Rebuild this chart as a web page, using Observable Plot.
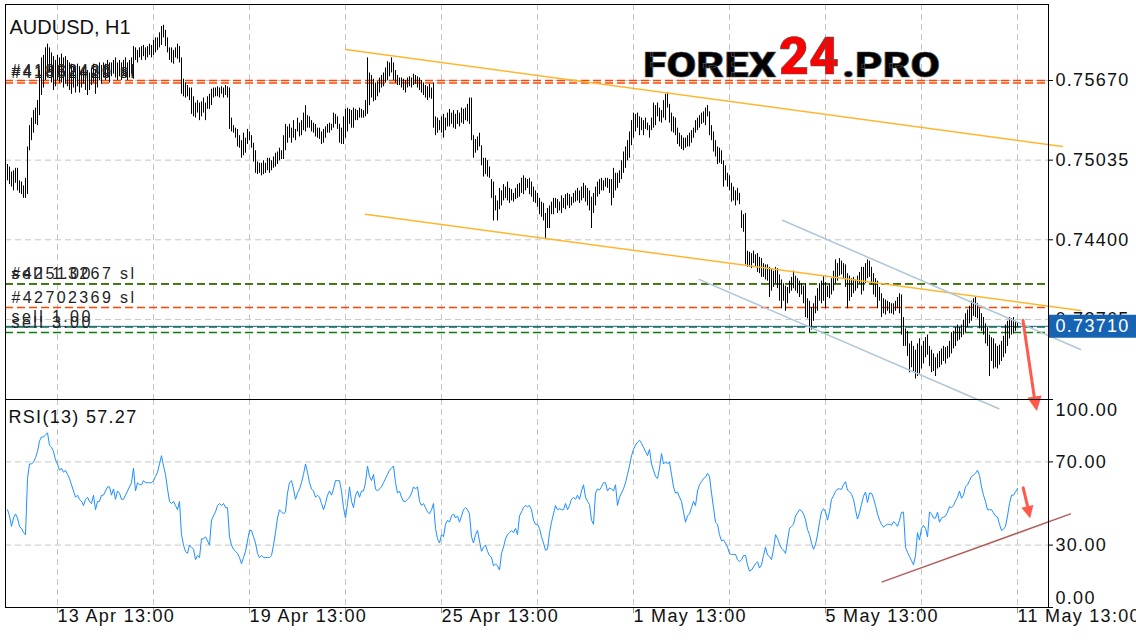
<!DOCTYPE html>
<html><head><meta charset="utf-8">
<script src="https://cdn.jsdelivr.net/npm/d3@7"></script>
<script src="https://cdn.jsdelivr.net/npm/@observablehq/plot@0.6"></script>
<style>
html,body{margin:0;padding:0;background:#fff;overflow:hidden}
#chart{position:relative;width:1136px;height:640px;background:#fff}
#chart svg{position:absolute;left:0;top:0}
#chart svg text{letter-spacing:1.3px}
#chart g[aria-description="orders"] text{letter-spacing:2.4px}
#chart g[aria-description="title"] text{letter-spacing:0}
#chart g[aria-description="head"] text{letter-spacing:0}
</style></head><body><div id="chart"></div>
<script>
// ---- hourly AUDUSD bars (prices in pips, 0.0001) ----
const highPips = [
7500,7498,7494,7495,7497,7497,7487,7486,7483,7489,7514,
7531,7537,7543,7545,7551,7575,7585,
7587,7593,7596,7593,7589,7586,7583,7587,7585,7588,7585,7586,7583,7581,7580,7578,7577,7580,
7578,7575,7577,7579,7575,7573,7577,7580,7575,7578,7581,7579,7581,7580,7583,7581,7581,7583,7585,7581,7583,7581,7583,7585,7581,7583,7585,
7594,7593,7591,7593,7594,7595,7593,7594,7596,7595,7599,7601,7601,7605,7610,7611,7607,
7601,7593,7593,7591,7593,7596,7594,7585,7568,
7565,7563,7561,7561,7554,7549,7551,
7549,7550,7553,7549,7554,7556,7560,7561,7561,7562,7561,7562,7561,7563,7562,7561,
7537,7531,7529,7528,7523,7519,7525,7521,7528,7526,7523,7517,7511,7502,7501,
7501,7503,7501,7505,7505,7503,7506,7509,7510,7513,
7511,7523,7532,7530,7532,7529,7535,7528,7537,7533,7535,7541,7547,7539,7538,
7535,7533,7532,7529,7529,7526,7528,7530,7532,7533,7532,7541,7540,7538,7532,
7529,7538,7544,7545,7544,7543,7545,7544,7543,7545,7544,7543,7551,7585,
7573,7571,7568,7565,7566,7569,7571,7573,7577,7582,7581,7585,7581,7575,7571,7569,7569,7568,7567,7569,
7570,7569,7572,7571,7570,7569,7567,7565,7563,7562,7564,7561,7565,
7538,7537,7535,7538,7540,7537,7541,7544,7541,7543,7540,7543,7541,7545,7544,7545,7548,7553,7553,7523,
7520,7522,7525,7515,7505,7505,7503,7498,7488,7486,7475,7471,
7481,7479,7484,7482,7486,7481,7480,7477,7481,7484,7485,7489,7491,7489,7488,7489,7486,7482,7479,7477,7473,7470,7469,7461,7465,
7467,7470,7473,7473,7472,7470,7475,7473,7476,7477,7476,7474,7477,7479,7481,7479,7482,7485,7483,7481,
7479,7474,7477,7482,7486,7488,7489,7487,7489,7489,7488,7488,7497,7493,7493,7495,7503,7510,7514,7519,
7526,7535,7541,7540,7541,7538,7537,7535,7537,7533,7531,7537,7549,7547,7549,7545,7543,7551,7556,7557,7548,7541,7538,7537,7529,
7525,7523,7521,7521,7523,7525,7527,7529,7535,7537,7539,7541,7542,7545,7547,7542,7531,7526,7519,7514,
7513,7511,7503,7499,7493,7491,7485,7482,7479,7481,7477,7463,7460,7461,7431,7430,7429,7431,7428,7429,
7426,7425,7421,7420,7420,7418,7417,7415,7418,7417,7412,7408,7405,7403,7402,7407,7410,7415,7411,7409,
7407,7405,7403,7405,7393,7391,7386,7389,7395,7401,7405,7407,7411,7406,7403,7405,7409,7415,7424,7421,
7425,7423,7421,7420,7413,7411,7409,7410,7408,7411,7414,7418,7418,7421,7424,
7423,7418,7413,7409,7407,7402,7397,7393,7392,7391,7390,7389,7389,7391,7394,
7397,7396,7378,7369,7367,7357,7359,7355,7352,7357,7361,7355,7359,7362,7364,7355,7352,7349,7346,7349,
7351,7353,7355,7354,7355,7359,7366,7367,7370,7372,7370,7372,7376,7381,7384,7387,7391,7393,7394,7389,
7385,7381,7378,7373,7370,7364,7362,7361,7357,7355,7356,7359,7363,7372,7375,7378,7377,7378,7375,7374];
const lowPips = [
7487,7484,7482,7479,7485,7479,7477,7476,7473,7473,7476,
7511,7519,7525,7532,7531,7539,7555,
7561,7567,7569,7573,7565,7559,7562,7567,7565,7565,7561,7564,7562,7559,7556,7561,7557,7562,
7557,7561,7564,7559,7555,7559,7563,7565,7556,7561,7567,7564,7569,7567,7569,7565,7570,7572,7569,7567,7570,7567,7571,7569,7567,7569,7572,
7568,7583,7581,7585,7583,7586,7583,7585,7587,7585,7587,7589,7591,7593,7595,7601,7594,
7589,7583,7581,7580,7585,7584,7581,7556,7554,
7553,7554,7551,7540,7538,7537,7541,
7535,7538,7541,7535,7544,7544,7547,7553,7554,7554,7553,7556,7553,7555,7553,7528,
7526,7525,7521,7514,7513,7505,7507,7509,7516,7519,7513,7502,7493,7492,7493,
7491,7492,7493,7495,7493,7495,7497,7498,7500,7503,
7504,7504,7511,7517,7521,7517,7521,7519,7526,7522,7523,7527,7526,7529,7529,
7526,7525,7522,7521,7520,7516,7517,7521,7525,7525,7527,7529,7532,7528,7517,
7516,7516,7521,7526,7532,7529,7529,7535,7535,7537,7537,7537,7538,7540,
7547,7553,7550,7551,7554,7557,7561,7562,7565,7567,7570,7573,7567,7565,7563,7563,7561,7559,7557,7561,
7562,7561,7563,7564,7561,7559,7557,7555,7553,7551,7553,7552,7529,
7523,7525,7527,7525,7521,7527,7530,7530,7532,7529,7528,7532,7530,7533,7532,7535,7534,7532,7519,7505,
7509,7511,7514,7499,7490,7492,7490,7489,7473,7455,7463,7455,
7464,7467,7471,7473,7471,7469,7471,7470,7472,7473,7474,7477,7476,7479,7481,7476,7474,7470,7469,7466,7460,7458,7455,7441,7449,
7449,7460,7460,7465,7461,7463,7461,7465,7464,7467,7465,7467,7469,7470,7471,7469,7471,7473,7470,7467,
7463,7449,7461,7467,7474,7476,7479,7479,7482,7481,7477,7467,7473,7479,7481,7485,7488,7493,7497,7503,
7505,7515,7521,7526,7529,7523,7527,7523,7528,7527,7521,7527,7529,7531,7538,7534,7533,7537,7535,7545,7533,7526,7525,7523,7516,
7514,7512,7511,7513,7514,7514,7517,7521,7525,7527,7529,7532,7533,7531,7538,7523,7519,7510,7506,7500,
7501,7500,7482,7487,7482,7479,7470,7471,7467,7471,7468,7449,7446,7420,7418,7418,7417,7421,7418,7414,
7413,7410,7410,7408,7407,7394,7399,7402,7405,7401,7391,7385,7391,7383,7389,7397,7399,7401,7399,7397,
7394,7396,7389,7378,7377,7366,7368,7375,7381,7383,7391,7389,7391,7385,7394,7393,7396,7399,7405,7407,
7411,7412,7409,7402,7385,7391,7394,7397,7399,7401,7405,7396,7399,7405,7409,
7410,7404,7396,7394,7385,7391,7378,7381,7380,7383,7381,7381,7380,7383,7385,
7381,7364,7355,7355,7347,7334,7338,7335,7329,7331,7333,7337,7341,7346,7348,7339,7334,7335,7331,7337,
7338,7340,7343,7341,7345,7346,7349,7353,7355,7359,7360,7362,7364,7366,7370,7373,7375,7379,7378,7377,
7369,7367,7364,7357,7355,7331,7343,7337,7338,7337,7340,7343,7346,7349,7355,7361,7364,7365,7367,7370];
// ---- RSI(13), one value per bar ----
const rsiValues = [
47,44,39,43,45,43,39,38,36,35, 62,69,69,70,72,75,80,82,82,83,
84,78,77,75,71,69,66,67,65,66, 64,62,59,56,53,54,52,51,49,52,
53,51,50,54,47,51,51,54,54,56, 58,58,54,57,52,56,55,52,52,54,
56,58,60,67,56,60,59,59,61,60, 60,60,60,61,63,65,69,73,68,64,
57,51,50,51,49,47,51,35,30,27, 26,30,29,28,23,25,24,33,33,34,
32,30,42,44,46,49,50,49,50,48, 48,34,30,28,27,26,24,21,24,27,
32,37,37,34,31,26,24,25,24,24, 24,24,25,30,36,43,47,46,45,46,
55,60,61,57,52,55,57,60,64,69, 65,60,57,56,53,54,53,50,47,50,
54,56,54,57,61,61,61,56,48,43, 50,58,51,48,54,56,53,56,56,60,
68,63,61,64,57,56,57,58,60,62, 64,66,67,68,60,55,56,53,51,51,
52,53,55,58,57,58,51,49,50,48, 46,45,47,50,38,33,31,35,34,40,
42,41,44,45,43,44,41,44,47,48, 47,45,34,31,35,37,32,27,29,30,
27,25,24,20,21,20,18,26,29,33, 35,36,37,36,38,35,44,
46,48,49,48.5,49,47,42,40,40,38, 34,31,27.5,28,36,41,45,49,47,47.5,
47,47,50,47,49,52,53,52,54,52, 56,59,53,51,49.5,42,40,55,57,56.5,
58,60,60,56,57.5,57,56,59,49,53, 55,57,60,64,68,73,76,78,79.5,80.4,
79,77,75,73,76,69,66,63,62,67, 74,69,70,69,70,64,58,55,55.5,53,
51,46,41,44,45,48,51,49,56,59, 60.5,62,62.6,64.5,63,55,48,41,40,35,
32,32.5,31,29,26,25.5,25.5,25.5,23,22, 23,25,25,20.5,17.5,18,19.5,21,22,19,
20.5,25,29,25.3,24.5,23,28,35,33.3,30.5, 28.5,27.5,26,32,38,39,40,44,45.5,47,
46.5,45,42.2,37.5,35,31,28,30.3,35,41, 46,47.5,46,42,46,52,53.7,55.8,57,57,
56.8,59,60.5,56.4,55.7,54.5,52,47,42.5,45.5, 49.5,53.5,55.5,50.5,55,55,52.5,49,45,42,
40,38.6,39.5,40,40,39.5,41.3,40.5,39,42, 45.8,45.8,29,26.5,24.5,22.5,20.5,25,36,32.4,
38,39.5,38,34,46,45,43,43,45.8,41, 43,43.5,44,45.8,48.5,48,49,51.3,53,56,
52.5,54,58,59,61,63,63.7,64.5,66,63.5, 58,54,51,47,47,47,45.5,44,43.5,40,
37,37.7,39,44,50,54,54,55.5,57.27];

// ---- axes / ticks ----
const xTickIdx = [25,121,217,313,409,505];
const xTickLabels = ["13 Apr 13:00","19 Apr 13:00","25 Apr 13:00","1 May 13:00","5 May 13:00","11 May 13:00"];
const xGridIdx = [25,73,121,169,217,265,313,361,409,457,505];
const priceTicks = [0.75670,0.75035,0.74400,0.73765];
const rsiLevels = [30,70];
const rsiAxisMid = [30,70], rsiAxisTop = [100], rsiAxisBottom = [0];
const currentPrice = 0.73710;

// ---- trade levels ----
const orderPrices = [0.75670,0.75650,0.74050,0.74047,0.73860,0.73705,0.73660];
const orderLabels = ["#41832436 sl","#41852429 sl","#42513267 sl","sell 1.00","#42702369 sl","sell 1.00","sell 3.00"];
const orderKinds  = ["sl","sl","sl","sell","sl","sell","sell"];

// ---- hand-drawn analysis lines (bar index, value) ----
const goldUpper = [[169,0.759172],[527.5,0.751438]];
const goldLower = [[179,0.746041],[536.5,0.738363]];
const channelUpper = [[387.5,0.745562],[536.5,0.735254]];
const channelLower = [[345.8,0.740842],[495.7,0.730526]];
const priceArrow = [[507.75,0.737566],[513.5,0.731347]];
const priceArrowHead = [[514,0.731028]];
const rsiTrend = [[437.4,12.3],[531.5,45.0]];
const rsiArrow = [[507.85,57.5],[510.05,48.6]];
const rsiArrowHead = [[510.6,46.2]];

// ---- build tables ----
const bars = highPips.map((h,i)=>({i, high:h/10000, low:lowPips[i]/10000}));
const rsiSeries = rsiValues.map((v,i)=>({i, v}));
const orders = orderPrices.map((p,k)=>({price:p, label:orderLabels[k], kind:orderKinds[k]}));
const xTicks = xTickIdx.map((i,k)=>({i, label:xTickLabels[k]}));

const font = "'Liberation Sans', Arial, Helvetica, sans-serif";
const baseStyle = {fontFamily:font, fontSize:"18px", background:"transparent", overflow:"visible", color:"#111"};
const grid = {stroke:"#c6c6c6", strokeDasharray:"6,4", strokeWidth:1};
const red = "#ff5a4c";

const rsiPlot = Plot.plot({
  width:1136, height:640, marginLeft:5, marginRight:88, marginTop:399, marginBottom:33,
  x:{domain:[-1,520.5], axis:null}, y:{domain:[0,100], axis:null},
  style:baseStyle,
  marks:[
    Plot.ruleY(rsiLevels, grid),
    Plot.ruleX(xGridIdx, grid),
    Plot.line(rsiSeries, {x:"i", y:"v", stroke:"#1e8fff", strokeWidth:1}),
    Plot.line(rsiTrend, {stroke:"#b0605c", strokeWidth:1.5}),
    Plot.line(rsiArrow, {stroke:red, strokeWidth:3}),
    Plot.text(rsiArrowHead, {x:d=>d[0], y:d=>d[1], text:()=>"\u25BC", fill:red, fontSize:16, fontFamily:"DejaVu Sans", rotate:-13, ariaDescription:"head"}),
    Plot.text([`RSI(13) ${rsiValues[rsiValues.length-1].toFixed(2)}`], {text:d=>d, frameAnchor:"top-left", dx:3, dy:11, textAnchor:"start", fill:"#111"}),
    Plot.ruleY([0,30,70,100], {x1:520.5, x2:523, stroke:"#000"}),
    Plot.text(rsiAxisMid, {y:d=>d, text:d=>d.toFixed(2), frameAnchor:"right", dx:7, textAnchor:"start", fill:"#111"}),
    Plot.text(rsiAxisTop, {y:d=>d, text:d=>d.toFixed(2), frameAnchor:"right", dx:7, dy:11, textAnchor:"start", fill:"#111"}),
    Plot.text(rsiAxisBottom, {y:d=>d, text:d=>d.toFixed(2), frameAnchor:"right", dx:7, dy:-9, textAnchor:"start", fill:"#111"}),
    Plot.ruleX(xGridIdx, {y1:0, y2:-3, stroke:"#999"}),
    Plot.text(xTicks, {x:"i", text:"label", frameAnchor:"bottom", dy:14, dx:0, textAnchor:"start", fill:"#111"}),
    Plot.frame({stroke:"#000"})
  ]
});

const pricePlot = Plot.plot({
  width:1136, height:640, marginLeft:5, marginRight:88, marginTop:4, marginBottom:241,
  x:{domain:[-1,520.5], axis:null}, y:{domain:[0.731267,0.762759], axis:null},
  style:baseStyle,
  marks:[
    Plot.ruleY(priceTicks, grid),
    Plot.ruleX(xGridIdx, grid),
    Plot.ruleY(orders, {y:"price", stroke:d=>d.kind==="sl"?"#ff4500":"#0a7d0a", strokeWidth:1.5, strokeDasharray:"8,4"}),
    Plot.ruleY([currentPrice], {stroke:"#1f5fae", strokeWidth:1}),
    Plot.ruleX(bars, {x:"i", y1:"low", y2:"high", stroke:"#000", strokeWidth:1}),
    Plot.line(goldUpper, {stroke:"#ffb62e", strokeWidth:1.5}),
    Plot.line(goldLower, {stroke:"#ffb62e", strokeWidth:1.5}),
    Plot.line(channelUpper, {stroke:"#aec6d8", strokeWidth:1.5}),
    Plot.line(channelLower, {stroke:"#aec6d8", strokeWidth:1.5}),
    Plot.line(priceArrow, {stroke:red, strokeWidth:3}),
    Plot.text(priceArrowHead, {x:d=>d[0], y:d=>d[1], text:()=>"\u25BC", fill:red, fontSize:19, fontFamily:"DejaVu Sans", rotate:-9, ariaDescription:"head"}),
    Plot.text(orders, {y:"price", text:"label", frameAnchor:"left", dx:6, dy:-10, fontSize:16, textAnchor:"start", fill:"#222", ariaDescription:"orders"}),
    Plot.text(["AUDUSD, H1"], {text:d=>d, frameAnchor:"top-left", dx:4, dy:15, fontSize:20, textAnchor:"start", fill:"#111", ariaDescription:"title"}),
    Plot.ruleY(priceTicks, {x1:520.5, x2:523, stroke:"#000"}),
    Plot.text(priceTicks, {y:d=>d, text:d=>d.toFixed(5), frameAnchor:"right", dx:7, textAnchor:"start", fill:"#111"}),
    Plot.ruleY([currentPrice], {x1:520.5, x2:570, stroke:"#1663b4", strokeWidth:23}),
    Plot.text([currentPrice], {y:d=>d, text:d=>d.toFixed(5), frameAnchor:"right", dx:7, textAnchor:"start", fill:"#fff"}),
    Plot.frame({stroke:"#000"})
  ]
});

const root = document.getElementById("chart");
root.appendChild(rsiPlot);
root.appendChild(pricePlot);

// watermark logo
const ns = "http://www.w3.org/2000/svg";
const logo = document.createElementNS(ns, "svg");
logo.setAttribute("width", 1136); logo.setAttribute("height", 640);
logo.style.pointerEvents = "none";
const parts = [
  {t:"FOREX", x:643, y:77, size:35, len:133, fill:"#000"},
  {t:"24", x:779, y:74, size:52, len:60, fill:"#ff0000"},
  {t:".PRO", x:842, y:77, size:35, len:98, fill:"#000"}
];
for (const p of parts) {
  const el = document.createElementNS(ns, "text");
  el.setAttribute("x", p.x); el.setAttribute("y", p.y);
  el.setAttribute("font-family", "Roboto, 'Open Sans', 'DejaVu Sans', sans-serif");
  el.setAttribute("font-weight", "900");
  el.setAttribute("font-size", p.size);
  el.setAttribute("textLength", p.len);
  el.setAttribute("lengthAdjust", "spacingAndGlyphs");
  el.setAttribute("fill", p.fill);
  el.setAttribute("stroke", "#555"); el.setAttribute("stroke-width", "0.6");
  el.style.letterSpacing = "0";
  el.textContent = p.t;
  logo.appendChild(el);
}
root.appendChild(logo);
</script></body></html>
